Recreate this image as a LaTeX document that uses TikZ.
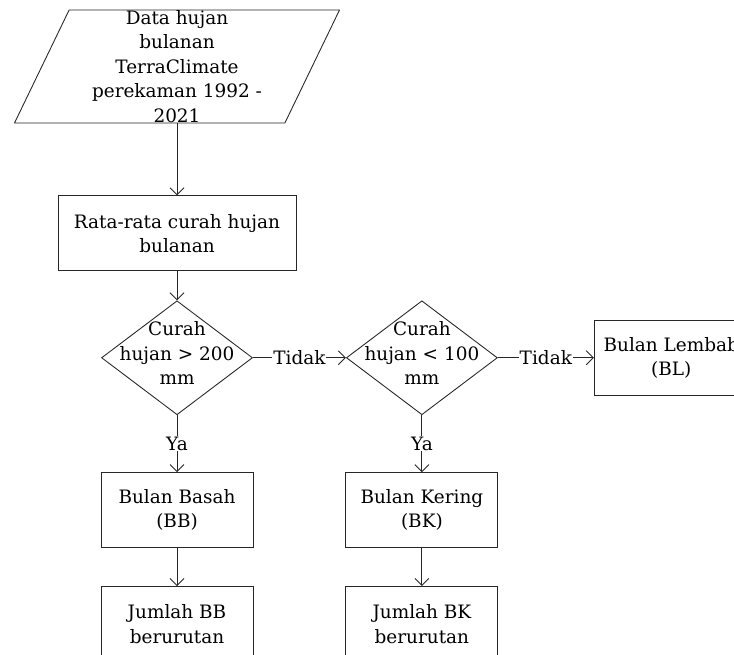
\documentclass[tikz,border=0pt]{standalone}
\usepackage{fontspec}
\setmainfont{DejaVu Serif}
\usetikzlibrary{shapes.geometric, arrows.meta, positioning}
\newcommand{\dlabel}[1]{\raisebox{-2.8pt}{\smash{\makebox[0pt]{\begin{tabular}{@{}c@{}}#1\end{tabular}}}}}
\tikzset{
    box/.style={
        rectangle, draw=black!85, line width=0.5pt,
        minimum width=#1, minimum height=1.5cm,
        align=center, inner sep=2pt
    },
    box/.default=3.04cm,
    decision/.style={
        diamond, draw=black!85, line width=0.5pt,
        minimum width=3.02cm, minimum height=2.28cm, inner sep=0pt
    },
    iobox/.style={
        trapezium, trapezium left angle=64, trapezium right angle=116,
        trapezium stretches body, draw=black!85, line width=0.5pt,
        minimum width=6.5cm, minimum height=2.26cm,
        align=center, inner sep=0pt
    },
    arrow/.style={-{Straight Barb[length=4pt,width=8pt]}, line width=0.5pt, color=black!85},
    anno/.style={fill=white, inner sep=0.5pt, text=black}
}

\begin{document}
\begin{tikzpicture}[font=\fontsize{10.5}{13.9}\selectfont]
    \useasboundingbox (0,0) rectangle (14.68,-13.1);

    % Input and averaging
    \node[iobox] (data) at (3.54,-1.33) {\raisebox{-2pt}{}Data hujan\\bulanan\\TerraClimate\\perekaman 1992 -\\2021};
    \node[box=4.76cm, below=1.44cm of data] (rata) {Rata-rata curah hujan\\bulanan};

    % Decisions - horizontal
    \node[decision, below=0.58cm of rata] (dec1) {\dlabel{Curah\\hujan > 200\\mm}};
    \node[decision, right=1.86cm of dec1] (dec2) {\dlabel{Curah\\hujan < 100\\mm}};
    \node[box=3.08cm, right=1.92cm of dec2] (bl) {Bulan Lembab\\(BL)};

    % Month classes
    \node[box, below=1.14cm of dec1] (bb) {Bulan Basah\\(BB)};
    \node[box, below=0.76cm of bb] (jbb) {Jumlah BB\\berurutan};
    \node[box, below=1.14cm of dec2] (bk) {Bulan Kering\\(BK)};
    \node[box, below=0.76cm of bk] (jbk) {Jumlah BK\\berurutan};

    % Arrows
    \draw[arrow] (data.south) -- (rata.north);
    \draw[arrow] (rata) -- (dec1);
    \draw[arrow] (dec1) -- node[anno] {Tidak} (dec2);
    \draw[arrow] (dec2) -- node[anno] {Tidak} (bl);
    \draw[arrow] (dec1) -- node[anno] {Ya} (bb);
    \draw[arrow] (dec2) -- node[anno] {Ya} (bk);
    \draw[arrow] (bb) -- (jbb);
    \draw[arrow] (bk) -- (jbk);

\end{tikzpicture}
\end{document}
